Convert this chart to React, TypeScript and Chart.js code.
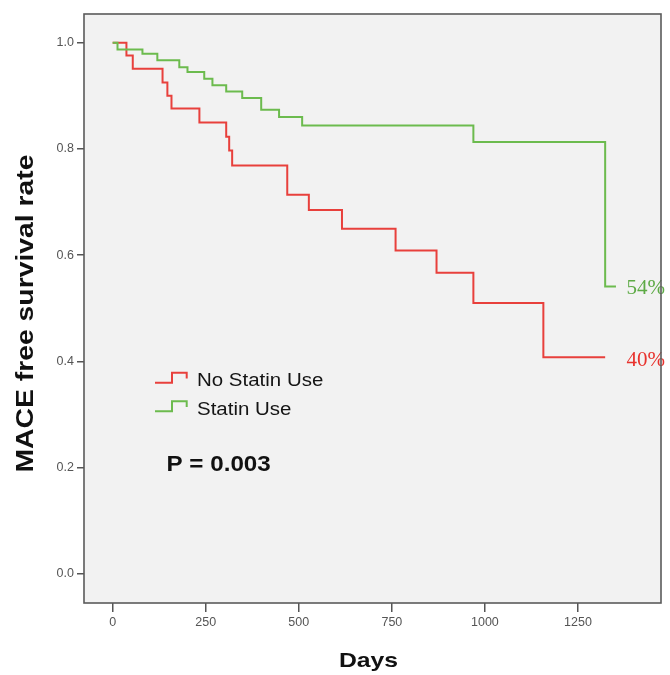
import React, { useEffect, useRef } from 'react';
import { Chart, registerables } from 'chart.js';

Chart.register(...registerables);

// ---- data ----
const noStatinDays = [0, 37, 54, 134, 147, 158, 233, 305, 313, 321, 469, 527, 616, 760, 870, 969, 1157, 1323];
const noStatinSurv = [1.0, 0.976, 0.951, 0.925, 0.9, 0.876, 0.85, 0.823, 0.797, 0.769, 0.714, 0.685, 0.65, 0.609, 0.567, 0.51, 0.408, 0.408];
const statinDays = [0, 13, 80, 120, 179, 201, 246, 268, 305, 348, 399, 447, 509, 969, 1323, 1352];
const statinSurv = [1.0, 0.987, 0.979, 0.967, 0.954, 0.945, 0.932, 0.92, 0.908, 0.896, 0.874, 0.86, 0.844, 0.813, 0.541, 0.541];
const xTicks = [0, 250, 500, 750, 1000, 1250];
const yTicks = [0, 0.2, 0.4, 0.6, 0.8, 1.0];
const seriesLabels = ['No Statin Use', 'Statin Use'];
const finalLabels = ['40%', '54%'];
const pValueText = 'P = 0.003';
const xTitle = 'Days';
const yTitle = 'MACE free survival rate';

const RED = '#e8403c';
const GREEN = '#6cbb4e';
const SANS = '"Liberation Sans", Arial, sans-serif';
const SERIF = '"Liberation Serif", "Times New Roman", serif';

function drawText(
  ctx: CanvasRenderingContext2D,
  text: string,
  x: number,
  y: number,
  font: string,
  color: string,
  sx: number,
  align: CanvasTextAlign,
  rotate = false
) {
  ctx.save();
  ctx.translate(x, y);
  if (rotate) ctx.rotate(-Math.PI / 2);
  ctx.scale(sx, 1);
  ctx.font = font;
  ctx.fillStyle = color;
  ctx.textAlign = align;
  ctx.textBaseline = 'alphabetic';
  ctx.fillText(text, 0, 0);
  ctx.restore();
}

const decorPlugin = {
  id: 'decor',
  beforeDraw(chart: any) {
    const { ctx, chartArea: a } = chart;
    ctx.save();
    ctx.fillStyle = '#ffffff';
    ctx.fillRect(0, 0, chart.width, chart.height);
    ctx.fillStyle = '#f2f2f2';
    ctx.fillRect(a.left, a.top, a.right - a.left, a.bottom - a.top);
    ctx.restore();
  },
  afterDraw(chart: any) {
    const { ctx, chartArea: a } = chart;
    const xs = chart.scales.x;
    const ys = chart.scales.y;

    // axis titles
    drawText(ctx, yTitle, 33, (a.top + a.bottom) / 2 + 5, `bold 24px ${SANS}`, '#111', 1.18, 'center', true);
    drawText(ctx, xTitle, (a.left + a.right) / 2 - 4, 667, `bold 21px ${SANS}`, '#111', 1.18, 'center');

    // legend
    const rows = [
      { label: seriesLabels[0], color: RED, base: 386 },
      { label: seriesLabels[1], color: GREEN, base: 414.5 },
    ];
    rows.forEach((r) => {
      ctx.save();
      ctx.strokeStyle = r.color;
      ctx.lineWidth = 2;
      ctx.beginPath();
      ctx.moveTo(155, r.base - 3.3);
      ctx.lineTo(172, r.base - 3.3);
      ctx.lineTo(172, r.base - 13.3);
      ctx.lineTo(186.7, r.base - 13.3);
      ctx.lineTo(186.7, r.base - 7.5);
      ctx.stroke();
      ctx.restore();
      drawText(ctx, r.label, 197, r.base, `17.5px ${SANS}`, '#151515', 1.17, 'left');
    });

    // p value
    drawText(ctx, pValueText, 166.5, 471, `bold 22px ${SANS}`, '#111', 1.1, 'left');

    // final percentages
    const redEndY = ys.getPixelForValue(noStatinSurv[noStatinSurv.length - 1]);
    const greenEndY = ys.getPixelForValue(statinSurv[statinSurv.length - 1]);
    const lx = xs.getPixelForValue(1380);
    drawText(ctx, finalLabels[1], lx, greenEndY + 7, `21px ${SERIF}`, '#5daa45', 1, 'left');
    drawText(ctx, finalLabels[0], lx, redEndY + 9, `21px ${SERIF}`, '#e8322d', 1, 'left');

    // frame
    ctx.save();
    ctx.strokeStyle = '#5a5a5a';
    ctx.lineWidth = 1.6;
    ctx.strokeRect(a.left, a.top, a.right - a.left, a.bottom - a.top);
    ctx.restore();
  },
};

export default function App() {
  const ref = useRef<HTMLCanvasElement | null>(null);

  useEffect(() => {
    if (!ref.current) return;
    const chart = new Chart(ref.current, {
      type: 'line',
      data: {
        datasets: [
          {
            label: seriesLabels[0],
            data: noStatinDays.map((d, i) => ({ x: d, y: noStatinSurv[i] })),
            borderColor: RED,
            borderWidth: 2,
            pointRadius: 0,
            stepped: 'before',
            fill: false,
            order: 2,
          },
          {
            label: seriesLabels[1],
            data: statinDays.map((d, i) => ({ x: d, y: statinSurv[i] })),
            borderColor: GREEN,
            borderWidth: 2,
            pointRadius: 0,
            stepped: 'before',
            fill: false,
            order: 1,
          },
        ],
      },
      options: {
        animation: false,
        responsive: false,
        layout: { padding: { top: 14, right: 9, left: 0, bottom: 0 } },
        plugins: { legend: { display: false }, tooltip: { enabled: false } },
        scales: {
          x: {
            type: 'linear',
            min: -77,
            max: 1473,
            afterFit: (s: any) => {
              s.height = 72;
            },
            afterBuildTicks: (s: any) => {
              s.ticks = xTicks.map((v) => ({ value: v }));
            },
            grid: { drawOnChartArea: false, drawTicks: true, tickLength: 9, color: '#555', lineWidth: 1.5 },
            border: { display: false },
            ticks: {
              color: '#555',
              font: { family: SANS, size: 12.5 },
              padding: 3,
              maxRotation: 0,
              autoSkip: false,
              callback: (v: any) => String(v),
            },
          },
          y: {
            type: 'linear',
            min: -0.0546,
            max: 1.054,
            afterFit: (s: any) => {
              s.width = 84;
            },
            afterBuildTicks: (s: any) => {
              s.ticks = yTicks.map((v) => ({ value: v }));
            },
            grid: { drawOnChartArea: false, drawTicks: true, tickLength: 7, color: '#555', lineWidth: 1.5 },
            border: { display: false },
            ticks: {
              color: '#555',
              font: { family: SANS, size: 12.5 },
              padding: 3,
              autoSkip: false,
              callback: (v: any) => Number(v).toFixed(1),
            },
          },
        },
      },
      plugins: [decorPlugin],
    } as any);
    return () => chart.destroy();
  }, []);

  return (
    <div style={{ position: 'fixed', left: 0, top: 0, width: 670, height: 675, background: '#fff' }}>
      <canvas ref={ref} width={670} height={675} style={{ display: 'block', width: 670, height: 675 }} />
    </div>
  );
}
